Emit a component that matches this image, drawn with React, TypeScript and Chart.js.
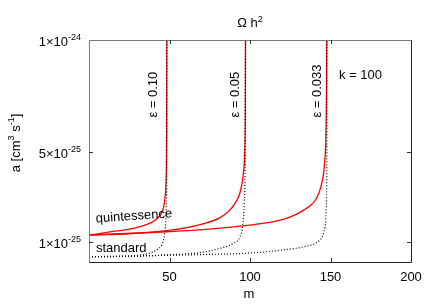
import React, { useEffect, useRef } from 'react';
import { Chart, registerables } from 'chart.js';

Chart.register(...registerables);

const FONT = '"Liberation Sans", Arial, Helvetica, sans-serif';

// Axis ranges and ticks
const X_MIN = 0;
const X_MAX = 200;
const Y_MIN = 1e-26;
const Y_MAX = 1e-24;
const xTickValues = [50, 100, 150, 200];
const xTickLabels = ['50', '100', '150', '200'];
const yTickValues = [1e-25, 5e-25, 1e-24];
const yTickMantissas = ['1\u00d710', '5\u00d710', '1\u00d710'];
const yTickExponents = ['-25', '-25', '-24'];

// Quintessence (red, solid) curves
const quintM_010 = [0, 13.0, 27.5, 37.9, 42.0, 44.6, 46.2, 47.2, 47.8, 48.1, 48.25, 48.35];
const quintA_010 = [1.30e-25, 1.44e-25, 1.60e-25, 1.83e-25, 2.02e-25, 2.22e-25, 2.50e-25, 2.95e-25, 3.60e-25, 4.60e-25, 6.5e-25, 1.2e-24];
const quintM_005 = [0, 25.0, 48.3, 60.0, 70.8, 81.4, 87.0, 91.0, 93.8, 95.8, 96.7, 97.1, 97.3];
const quintA_005 = [1.30e-25, 1.36e-25, 1.50e-25, 1.62e-25, 1.80e-25, 2.08e-25, 2.38e-25, 2.75e-25, 3.20e-25, 4.00e-25, 5.0e-25, 7.0e-25, 1.2e-24];
const quintM_0033 = [0, 48.3, 68.9, 100.0, 110.0, 120.7, 128.0, 133.1, 138.0, 141.4, 144.5, 146.3, 147.2, 147.6, 147.7];
const quintA_0033 = [1.30e-25, 1.45e-25, 1.53e-25, 1.74e-25, 1.84e-25, 2.00e-25, 2.20e-25, 2.40e-25, 2.65e-25, 2.95e-25, 3.60e-25, 4.50e-25, 6.0e-25, 9.0e-25, 1.2e-24];

// Standard (black, dotted) curves
const stdM_010 = [0, 20.0, 31.7, 37.9, 42.0, 45.2, 46.2, 47.0, 47.6, 48.0, 48.3, 48.4];
const stdA_010 = [0.336e-25, 0.35e-25, 0.41e-25, 0.50e-25, 0.64e-25, 0.86e-25, 1.05e-25, 1.35e-25, 1.85e-25, 2.6e-25, 4.5e-25, 1.2e-24];
const stdM_005 = [0, 30.0, 48.3, 68.9, 81.4, 89.6, 93.8, 95.5, 96.5, 97.0, 97.2];
const stdA_005 = [0.336e-25, 0.36e-25, 0.42e-25, 0.52e-25, 0.71e-25, 0.93e-25, 1.23e-25, 1.75e-25, 2.8e-25, 5.0e-25, 1.2e-24];
const stdM_0033 = [0, 50.0, 68.9, 100.0, 120.7, 135.2, 143.5, 146.6, 147.5, 147.7, 147.8];
const stdA_0033 = [0.336e-25, 0.40e-25, 0.43e-25, 0.50e-25, 0.64e-25, 0.81e-25, 1.08e-25, 1.67e-25, 2.87e-25, 5.0e-25, 1.2e-24];

// Text annotations (positions in data units)
const epsLabels = ['\u03b5 = 0.10', '\u03b5 = 0.05', '\u03b5 = 0.033'];
const epsLabelM = [42.2, 93.4, 144.1];
const epsLabelA = [6.54e-25, 6.54e-25, 6.54e-25];
const noteTexts = ['k = 100', 'quintessence', 'standard'];
const noteM = [155.3, 4.35, 4.35];
const noteA = [8.28e-25, 1.86e-25, 0.568e-25];
const noteAngle = [0, -4, 0];

const pts = (ms: number[], as: number[]) => ms.map((m, i) => ({ x: m, y: as[i] }));

function drawSup(ctx: CanvasRenderingContext2D, base: string, sup: string, x: number, y: number, align: 'left' | 'right' | 'center', size = 13, supSize = 9, supRise = 6) {
  ctx.font = `${size}px ${FONT}`;
  const wb = ctx.measureText(base).width;
  ctx.font = `${supSize}px ${FONT}`;
  const ws = ctx.measureText(sup).width;
  const total = wb + ws;
  let x0 = x;
  if (align === 'right') x0 = x - total;
  else if (align === 'center') x0 = x - total / 2;
  ctx.textAlign = 'left';
  ctx.textBaseline = 'alphabetic';
  ctx.font = `${size}px ${FONT}`;
  ctx.fillText(base, x0, y);
  ctx.font = `${supSize}px ${FONT}`;
  ctx.fillText(sup, x0 + wb, y - supRise);
}

const decorPlugin = {
  id: 'gnuplotDecor',
  afterDraw(chart: any) {
    const ctx: CanvasRenderingContext2D = chart.ctx;
    const { left, right, top, bottom } = chart.chartArea;
    const xs = chart.scales.x;
    const ys = chart.scales.y;
    ctx.save();
    ctx.lineWidth = 1;
    // frame
    ctx.strokeStyle = '#7a7a7a';
    ctx.beginPath();
    ctx.moveTo(left + 0.5, bottom + 0.5);
    ctx.lineTo(left + 0.5, top + 0.5);
    ctx.lineTo(right + 0.5, top + 0.5);
    ctx.stroke();
    ctx.strokeStyle = '#222';
    ctx.beginPath();
    ctx.moveTo(right + 0.5, top + 0.5);
    ctx.lineTo(right + 0.5, bottom + 0.5);
    ctx.lineTo(left + 0.5, bottom + 0.5);
    ctx.stroke();
    // ticks (inward, mirrored)
    ctx.strokeStyle = '#333';
    const tl = 4;
    xTickValues.forEach((v) => {
      const px = Math.round(xs.getPixelForValue(v)) + 0.5;
      if (px > right - 1) return;
      ctx.beginPath();
      ctx.moveTo(px, bottom);
      ctx.lineTo(px, bottom - tl);
      ctx.moveTo(px, top);
      ctx.lineTo(px, top + tl);
      ctx.stroke();
    });
    yTickValues.forEach((v) => {
      const py = Math.round(ys.getPixelForValue(v)) + 0.5;
      if (py < top + 1) return;
      ctx.beginPath();
      ctx.moveTo(left, py);
      ctx.lineTo(left + tl, py);
      ctx.moveTo(right, py);
      ctx.lineTo(right - tl, py);
      ctx.stroke();
    });
    ctx.fillStyle = '#000';
    // x tick labels
    ctx.font = `13px ${FONT}`;
    ctx.textAlign = 'center';
    ctx.textBaseline = 'alphabetic';
    xTickValues.forEach((v, i) => {
      ctx.fillText(xTickLabels[i], xs.getPixelForValue(v), bottom + 18.5);
    });
    // y tick labels
    yTickValues.forEach((v, i) => {
      const py = ys.getPixelForValue(v);
      drawSup(ctx, yTickMantissas[i], yTickExponents[i], left - 8, py + 6, 'right');
    });
    // title
    drawSup(ctx, '\u03a9 h', '2', (left + right) / 2, 27, 'center', 13, 9, 5.5);
    // x label
    ctx.font = `13px ${FONT}`;
    ctx.textAlign = 'center';
    ctx.fillText('m', (left + right) / 2 - 1, 298);
    // y label (rotated)
    ctx.save();
    ctx.translate(19.5, 143);
    ctx.rotate(-Math.PI / 2);
    {
      const parts: [string, boolean][] = [['a [cm', false], ['3', true], [' s', false], ['-1', true], [']', false]];
      let total = 0;
      parts.forEach(([t, s]) => {
        ctx.font = `${s ? 9 : 13}px ${FONT}`;
        total += ctx.measureText(t).width;
      });
      let x = -total / 2;
      ctx.textAlign = 'left';
      parts.forEach(([t, s]) => {
        ctx.font = `${s ? 9 : 13}px ${FONT}`;
        ctx.fillText(t, x, s ? -6 : 0);
        x += ctx.measureText(t).width;
      });
    }
    ctx.restore();
    // epsilon labels (rotated)
    ctx.font = `13px ${FONT}`;
    epsLabels.forEach((t, i) => {
      ctx.save();
      ctx.translate(xs.getPixelForValue(epsLabelM[i]), ys.getPixelForValue(epsLabelA[i]));
      ctx.rotate(-Math.PI / 2);
      ctx.textAlign = 'left';
      ctx.fillText(t, 0, 0);
      ctx.restore();
    });
    // notes
    noteTexts.forEach((t, i) => {
      ctx.save();
      ctx.translate(xs.getPixelForValue(noteM[i]), ys.getPixelForValue(noteA[i]));
      ctx.rotate((noteAngle[i] * Math.PI) / 180);
      ctx.textAlign = 'left';
      ctx.fillText(t, 0, 0);
      ctx.restore();
    });
    ctx.restore();
  },
};

export default function App() {
  const ref = useRef<HTMLCanvasElement | null>(null);
  useEffect(() => {
    if (!ref.current) return;
    const dotted = { borderColor: '#000', borderWidth: 1.2, borderDash: [1, 2], pointRadius: 0, fill: false };
    const solid = { borderColor: '#ff0000', borderWidth: 1.3, pointRadius: 0, fill: false };
    const chart = new Chart(ref.current, {
      type: 'line',
      data: {
        datasets: [
          { label: 'standard 0.10', data: pts(stdM_010, stdA_010), ...dotted },
          { label: 'standard 0.05', data: pts(stdM_005, stdA_005), ...dotted },
          { label: 'standard 0.033', data: pts(stdM_0033, stdA_0033), ...dotted },
          { label: 'quintessence 0.10', data: pts(quintM_010, quintA_010), ...solid },
          { label: 'quintessence 0.05', data: pts(quintM_005, quintA_005), ...solid },
          { label: 'quintessence 0.033', data: pts(quintM_0033, quintA_0033), ...solid },
        ] as any,
      },
      options: {
        animation: false,
        responsive: false,
        devicePixelRatio: 1,
        events: [],
        layout: { padding: { left: 89, top: 40, right: 25, bottom: 43 } },
        scales: {
          x: { type: 'linear', min: X_MIN, max: X_MAX, display: false },
          y: { type: 'linear', min: Y_MIN, max: Y_MAX, display: false },
        },
        elements: { line: { cubicInterpolationMode: 'monotone' } },
        plugins: { legend: { display: false }, tooltip: { enabled: false }, title: { display: false } },
      } as any,
      plugins: [decorPlugin],
    });
    return () => chart.destroy();
  }, []);
  return (
    <div style={{ position: 'fixed', left: 0, top: 0, width: 436, height: 305, background: '#fff' }}>
      <canvas ref={ref} width={436} height={305} style={{ width: 436, height: 305, display: 'block' }} />
    </div>
  );
}
